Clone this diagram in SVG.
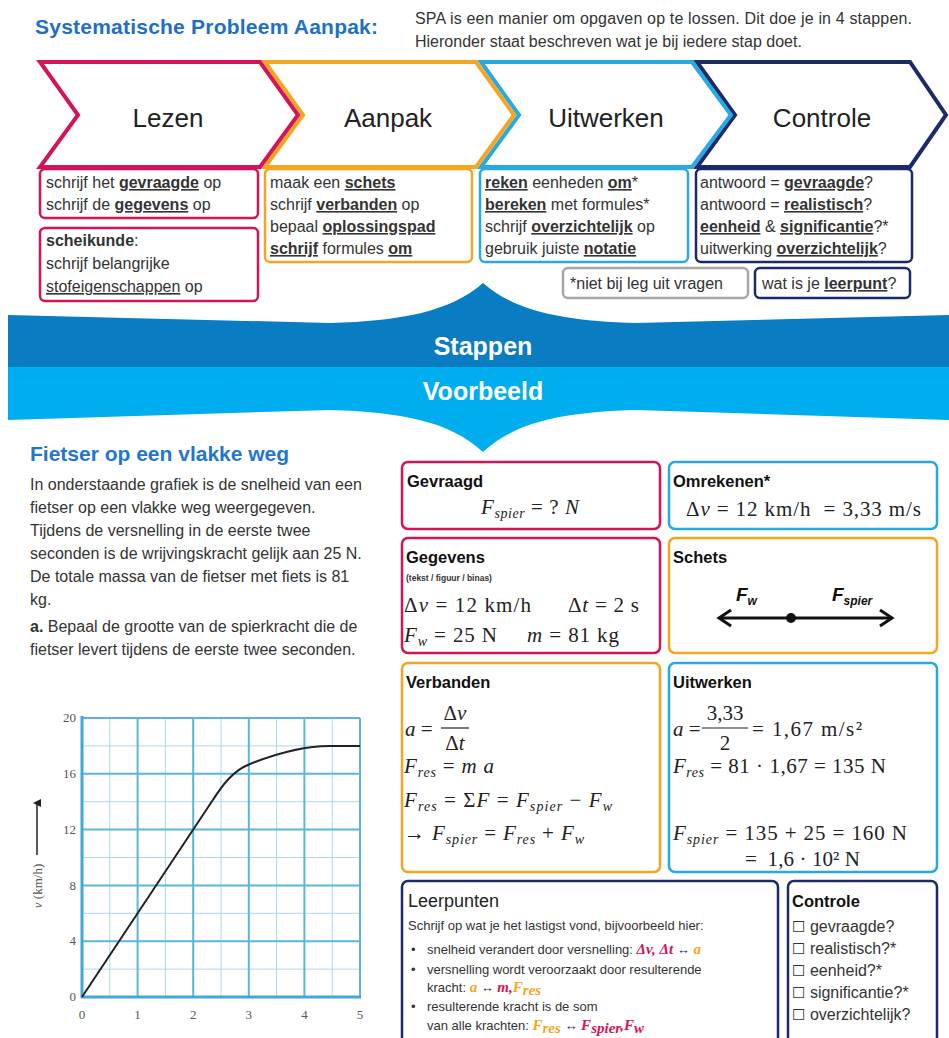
<svg xmlns="http://www.w3.org/2000/svg" width="949" height="1038" viewBox="0 0 949 1038">
<defs>
<style>
.t{font-family:"Liberation Sans",Arial,sans-serif;font-size:16px;fill:#333}
.b{font-weight:bold}
.u{text-decoration:underline}
.m{font-family:"Liberation Serif","DejaVu Serif",serif;font-size:21px;fill:#222}
.i{font-style:italic}
.s{font-style:italic;font-size:14px}
.chev{fill:#fff;stroke-width:4;stroke-linejoin:miter}
.lbl{font-family:"Liberation Sans",Arial,sans-serif;font-size:26px;fill:#222;text-anchor:middle}
.box{fill:#fff;stroke-width:2.5}
.pink{stroke:#d4145a}
.orange{stroke:#f7a520}
.blue{stroke:#27aae1}
.navy{stroke:#1b2a6b}
.gray{stroke:#a6a6a6}
.h{font-family:"Liberation Sans",Arial,sans-serif;font-weight:bold;font-size:16.5px;fill:#111}
.gmaj{stroke:#5ab6dd;stroke-width:2}
.gmin{stroke:#a9d9ed;stroke-width:1}
.tick{font-family:"Liberation Serif",serif;font-size:13px;fill:#555}
.lp{font-family:"Liberation Sans",Arial,sans-serif;font-size:13px;fill:#333}
.lm{font-family:"Liberation Serif",serif;font-weight:bold;font-style:italic;font-size:15px}
.cpk{fill:#d4145a}.cor{fill:#f7a520}.cnv{fill:#1b2a6b}
</style>
<marker id="upArrow" markerWidth="8" markerHeight="8" refX="4" refY="4" orient="auto" markerUnits="userSpaceOnUse"><path d="M0,8 L4,0 L8,8 Z" fill="#222"/></marker>
</defs>
<rect width="949" height="1038" fill="#fff"/>

<g id="header">
<text x="35" y="34" font-family="Liberation Sans,Arial,sans-serif" font-weight="bold" font-size="21" fill="#1f6fc5" textLength="343">Systematische Probleem Aanpak:</text>
<text class="t" x="415" y="24" font-size="15.5" textLength="497">SPA is een manier om opgaven op te lossen. Dit doe je in 4 stappen.</text>
<text class="t" x="415" y="47" font-size="15.5">Hieronder staat beschreven wat je bij iedere stap doet.</text>
</g>

<g id="step-controle">
<path class="chev navy" d="M697,62 L910,62 L946,115 L910,167 L697,167 L735,115 Z"/>
<text class="lbl" x="822" y="127">Controle</text>
</g>
<g id="step-uitwerken">
<path class="chev blue" d="M481,62 L692,62 L731,115 L692,167 L481,167 L519,115 Z"/>
<text class="lbl" x="606" y="127">Uitwerken</text>
</g>
<g id="step-aanpak">
<path class="chev orange" d="M265,62 L476,62 L514,115 L476,167 L265,167 L303,115 Z"/>
<text class="lbl" x="388" y="127">Aanpak</text>
</g>
<g id="step-lezen">
<path class="chev pink" d="M40,62 L260,62 L298,115 L260,167 L40,167 L78,115 Z"/>
<text class="lbl" x="168" y="127">Lezen</text>
</g>

<g id="box-lezen-1">
<rect class="box pink" x="40" y="169" width="218" height="49" rx="5"/>
<text class="t" x="46" y="188">schrijf het <tspan class="b u">gevraagde</tspan> op</text>
<text class="t" x="46" y="210">schrijf de <tspan class="b u">gegevens</tspan> op</text>
</g>
<g id="box-lezen-2">
<rect class="box pink" x="40" y="228" width="218" height="73" rx="5"/>
<text class="t" x="46" y="246"><tspan class="b">scheikunde</tspan>:</text>
<text class="t" x="46" y="269">schrijf belangrijke</text>
<text class="t" x="46" y="292"><tspan class="u">stofeigenschappen</tspan> op</text>
</g>
<g id="box-aanpak">
<rect class="box orange" x="265" y="169" width="207" height="93" rx="5"/>
<text class="t" x="270" y="188">maak een <tspan class="b u">schets</tspan></text>
<text class="t" x="270" y="210">schrijf <tspan class="b u">verbanden</tspan> op</text>
<text class="t" x="270" y="232">bepaal <tspan class="b u">oplossingspad</tspan></text>
<text class="t" x="270" y="254"><tspan class="b u">schrijf</tspan> formules <tspan class="b u">om</tspan></text>
</g>
<g id="box-uitwerken">
<rect class="box blue" x="480" y="169" width="208" height="93" rx="5"/>
<text class="t" x="485" y="188"><tspan class="b u">reken</tspan> eenheden <tspan class="b u">om</tspan>*</text>
<text class="t" x="485" y="210"><tspan class="b u">bereken</tspan> met formules*</text>
<text class="t" x="485" y="232">schrijf <tspan class="b u">overzichtelijk</tspan> op</text>
<text class="t" x="485" y="254">gebruik juiste <tspan class="b u">notatie</tspan></text>
</g>
<g id="box-controle">
<rect class="box navy" x="696" y="169" width="216" height="93" rx="5"/>
<text class="t" x="700" y="188">antwoord = <tspan class="b u">gevraagde</tspan>?</text>
<text class="t" x="700" y="210">antwoord = <tspan class="b u">realistisch</tspan>?</text>
<text class="t" x="700" y="232"><tspan class="b u">eenheid</tspan> &amp; <tspan class="b u">significantie</tspan>?*</text>
<text class="t" x="700" y="254">uitwerking <tspan class="b u">overzichtelijk</tspan>?</text>
</g>
<g id="box-note">
<rect class="box gray" x="563" y="268" width="185" height="30" rx="5"/>
<text class="t" x="570" y="289" font-size="15.5">*niet bij leg uit vragen</text>
</g>
<g id="box-leerpunt">
<rect class="box navy" x="755" y="268" width="155" height="30" rx="5"/>
<text class="t" x="762" y="289" font-size="15.5">wat is je <tspan class="b u">leerpunt</tspan>?</text>
</g>

<g id="banner">
<path d="M8,315 L330,323 C400,321 450,312 483,283 C516,312 566,321 636,323 L949,315 L949,368 L8,368 Z" fill="#0a7cc1"/>
<path d="M8,367 L949,367 L949,420 L636,410 C566,412 516,421 483,452 C450,421 400,412 330,410 L8,420 Z" fill="#00aeef"/>
<text x="483" y="355" text-anchor="middle" font-family="Liberation Sans,Arial,sans-serif" font-weight="bold" font-size="25" fill="#fff">Stappen</text>
<text x="483" y="400" text-anchor="middle" font-family="Liberation Sans,Arial,sans-serif" font-weight="bold" font-size="25" fill="#fff">Voorbeeld</text>
</g>

<g id="exercise">
<text x="30" y="461" font-family="Liberation Sans,Arial,sans-serif" font-weight="bold" font-size="21" fill="#1f77d0">Fietser op een vlakke weg</text>
<text class="t" x="30" y="490">In onderstaande grafiek is de snelheid van een</text>
<text class="t" x="30" y="513">fietser op een vlakke weg weergegeven.</text>
<text class="t" x="30" y="536">Tijdens de versnelling in de eerste twee</text>
<text class="t" x="30" y="559">seconden is de wrijvingskracht gelijk aan 25 N.</text>
<text class="t" x="30" y="582">De totale massa van de fietser met fiets is 81</text>
<text class="t" x="30" y="605">kg.</text>
<text class="t" x="30" y="632"><tspan class="b">a.</tspan> Bepaal de grootte van de spierkracht die de</text>
<text class="t" x="30" y="655">fietser levert tijdens de eerste twee seconden.</text>
</g>

<g id="graph">
<g class="gmin">
<line x1="109.8" y1="718" x2="109.8" y2="997"/><line x1="165.4" y1="718" x2="165.4" y2="997"/><line x1="221" y1="718" x2="221" y2="997"/><line x1="276.6" y1="718" x2="276.6" y2="997"/><line x1="332.2" y1="718" x2="332.2" y2="997"/>
<line x1="82" y1="969.1" x2="360" y2="969.1"/><line x1="82" y1="913.3" x2="360" y2="913.3"/><line x1="82" y1="857.5" x2="360" y2="857.5"/><line x1="82" y1="801.7" x2="360" y2="801.7"/><line x1="82" y1="745.9" x2="360" y2="745.9"/>
</g>
<g class="gmaj">
<line x1="137.6" y1="718" x2="137.6" y2="997"/><line x1="193.2" y1="718" x2="193.2" y2="997"/><line x1="248.8" y1="718" x2="248.8" y2="997"/><line x1="304.4" y1="718" x2="304.4" y2="997"/><line x1="360" y1="718" x2="360" y2="997"/>
<line x1="82" y1="941.2" x2="360" y2="941.2"/><line x1="82" y1="885.4" x2="360" y2="885.4"/><line x1="82" y1="829.6" x2="360" y2="829.6"/><line x1="82" y1="773.8" x2="360" y2="773.8"/><line x1="82" y1="718" x2="360" y2="718"/>
</g>
<line x1="82" y1="716" x2="82" y2="998" stroke="#3fa9d8" stroke-width="3"/>
<line x1="81" y1="997" x2="361" y2="997" stroke="#3fa9d8" stroke-width="3"/>
<path d="M82,997 L212,801.3 C222,786 232,771 250,764 C270,756 300,746 330,746 L360,746" fill="none" stroke="#222" stroke-width="2"/>
<g class="tick" text-anchor="end">
<text x="76" y="722">20</text><text x="76" y="778">16</text><text x="76" y="834">12</text><text x="76" y="890">8</text><text x="76" y="945">4</text><text x="76" y="1001">0</text>
</g>
<g class="tick" text-anchor="middle">
<text x="82" y="1019">0</text><text x="137.6" y="1019">1</text><text x="193.2" y="1019">2</text><text x="248.8" y="1019">3</text><text x="304.4" y="1019">4</text><text x="360" y="1019">5</text>
</g>
<text class="tick" transform="translate(42,886) rotate(-90)" text-anchor="middle"><tspan font-style="italic">v</tspan> (km/h)</text>
<line x1="37" y1="855" x2="37" y2="803" stroke="#222" stroke-width="1.5" marker-end="url(#upArrow)"/>
</g>

<g id="box-gevraagd">
<rect class="box pink" x="402" y="462" width="258" height="67" rx="6"/>
<text class="h" x="407" y="487">Gevraagd</text>
<text class="m" x="481" y="514" textLength="98"><tspan class="i">F</tspan><tspan class="s" dy="4">spier</tspan><tspan dy="-4"> = ? </tspan><tspan class="i">N</tspan></text>
</g>
<g id="box-omrekenen">
<rect class="box blue" x="669" y="462" width="268" height="67" rx="6"/>
<text class="h" x="673" y="487">Omrekenen*</text>
<text class="m" x="686" y="516" textLength="235" xml:space="preserve">Δ<tspan class="i">v</tspan> = 12 km/h  = 3,33 m/s</text>
</g>
<g id="box-gegevens">
<rect class="box pink" x="402" y="538" width="258" height="115" rx="6"/>
<text class="h" x="406" y="563">Gegevens</text>
<text x="406" y="581" font-family="Liberation Sans,Arial,sans-serif" font-weight="bold" font-size="8.5" fill="#333">(tekst / figuur / binas)</text>
<text class="m" x="404" y="612" textLength="127">Δ<tspan class="i">v</tspan> = 12 km/h</text>
<text class="m" x="568" y="612" textLength="71">Δ<tspan class="i">t</tspan> = 2 s</text>
<text class="m" x="404" y="642" textLength="93"><tspan class="i">F</tspan><tspan class="s" dy="4">w</tspan><tspan dy="-4"> = 25 N</tspan></text>
<text class="m" x="527" y="642" textLength="92"><tspan class="i">m</tspan> = 81 kg</text>
</g>
<g id="box-schets">
<rect class="box orange" x="669" y="538" width="268" height="115" rx="6"/>
<text class="h" x="673" y="563">Schets</text>
<line x1="720" y1="618" x2="891" y2="618" stroke="#111" stroke-width="3"/>
<polyline points="731,610 719,618 731,626" fill="none" stroke="#111" stroke-width="3"/>
<polyline points="880,610 892,618 880,626" fill="none" stroke="#111" stroke-width="3"/>
<circle cx="791" cy="618" r="5" fill="#111"/>
<text x="736" y="601" font-family="Liberation Sans,Arial,sans-serif" font-weight="bold" font-style="italic" font-size="19" fill="#111">F<tspan font-size="12" dy="4">w</tspan></text>
<text x="832" y="601" font-family="Liberation Sans,Arial,sans-serif" font-weight="bold" font-style="italic" font-size="19" fill="#111">F<tspan font-size="12" dy="4">spier</tspan></text>
</g>
<g id="box-verbanden">
<rect class="box orange" x="402" y="663" width="258" height="209" rx="6"/>
<text class="h" x="406" y="688">Verbanden</text>
<text class="m" x="405" y="736"><tspan class="i">a</tspan> =</text>
<text class="m" x="455" y="720" text-anchor="middle">Δ<tspan class="i">v</tspan></text>
<line x1="441" y1="728" x2="469" y2="728" stroke="#222" stroke-width="1.2"/>
<text class="m" x="455" y="750" text-anchor="middle">Δ<tspan class="i">t</tspan></text>
<text class="m" x="404" y="773" textLength="90"><tspan class="i">F</tspan><tspan class="s" dy="4">res</tspan><tspan dy="-4"> = </tspan><tspan class="i">m a</tspan></text>
<text class="m" x="404" y="807" textLength="208"><tspan class="i">F</tspan><tspan class="s" dy="4">res</tspan><tspan dy="-4"> = Σ</tspan><tspan class="i">F</tspan> = <tspan class="i">F</tspan><tspan class="s" dy="4">spier</tspan><tspan dy="-4"> − </tspan><tspan class="i">F</tspan><tspan class="s" dy="4">w</tspan></text>
<text class="m" x="404" y="840" textLength="180">→ <tspan class="i">F</tspan><tspan class="s" dy="4">spier</tspan><tspan dy="-4"> = </tspan><tspan class="i">F</tspan><tspan class="s" dy="4">res</tspan><tspan dy="-4"> + </tspan><tspan class="i">F</tspan><tspan class="s" dy="4">w</tspan></text>
</g>
<g id="box-uitwerken-vb">
<rect class="box blue" x="669" y="663" width="268" height="209" rx="6"/>
<text class="h" x="673" y="688">Uitwerken</text>
<text class="m" x="673" y="736"><tspan class="i">a</tspan> =</text>
<text class="m" x="725" y="720" text-anchor="middle">3,33</text>
<line x1="702" y1="728" x2="748" y2="728" stroke="#222" stroke-width="1.2"/>
<text class="m" x="725" y="750" text-anchor="middle">2</text>
<text class="m" x="752" y="736" textLength="110">= 1,67 m/s²</text>
<text class="m" x="673" y="773" textLength="213"><tspan class="i">F</tspan><tspan class="s" dy="4">res</tspan><tspan dy="-4"> = 81 · 1,67 = 135 N</tspan></text>
<text class="m" x="673" y="840" textLength="234"><tspan class="i">F</tspan><tspan class="s" dy="4">spier</tspan><tspan dy="-4"> = 135 + 25 = 160 N</tspan></text>
<text class="m" x="745" y="866" textLength="115" xml:space="preserve">=  1,6 · 10² N</text>
</g>
<g id="box-leerpunten">
<rect class="box navy" x="402" y="881" width="376" height="170" rx="6"/>
<text x="408" y="907" font-family="Liberation Sans,Arial,sans-serif" font-size="18" fill="#222">Leerpunten</text>
<text class="lp" x="408" y="930">Schrijf op wat je het lastigst vond, bijvoorbeeld hier:</text>
<text class="lp" x="411" y="954">•</text>
<text class="lp" x="427" y="954">snelheid verandert door versnelling: <tspan class="lm cpk">Δv, Δt</tspan><tspan class="cnv"> ↔ </tspan><tspan class="lm cor">a</tspan></text>
<text class="lp" x="411" y="974">•</text>
<text class="lp" x="427" y="974">versnelling wordt veroorzaakt door resulterende</text>
<text class="lp" x="427" y="992">kracht: <tspan class="lm cor">a</tspan><tspan class="cnv"> ↔ </tspan><tspan class="lm cpk">m,</tspan><tspan class="lm cor">F</tspan><tspan class="lm cor" font-size="10" dy="3">res</tspan></text>
<text class="lp" x="411" y="1011">•</text>
<text class="lp" x="427" y="1011">resulterende kracht is de som</text>
<text class="lp" x="427" y="1030">van alle krachten: <tspan class="lm cor">F</tspan><tspan class="lm cor" font-size="10" dy="3">res</tspan><tspan class="cnv" dy="-3"> ↔ </tspan><tspan class="lm cpk">F</tspan><tspan class="lm cpk" font-size="10" dy="3">spier</tspan><tspan class="lm cpk" dy="-3">,F</tspan><tspan class="lm cpk" font-size="10" dy="3">w</tspan></text>
</g>
<g id="box-controle-vb">
<rect class="box navy" x="788" y="881" width="149" height="170" rx="6"/>
<text class="h" x="792" y="907" font-size="17">Controle</text>
<g class="t" font-size="14.5">
<text x="792" y="932"><tspan font-family="DejaVu Sans" font-size="15">☐</tspan> gevraagde?</text>
<text x="792" y="954"><tspan font-family="DejaVu Sans" font-size="15">☐</tspan> realistisch?*</text>
<text x="792" y="976"><tspan font-family="DejaVu Sans" font-size="15">☐</tspan> eenheid?*</text>
<text x="792" y="998"><tspan font-family="DejaVu Sans" font-size="15">☐</tspan> significantie?*</text>
<text x="792" y="1020"><tspan font-family="DejaVu Sans" font-size="15">☐</tspan> overzichtelijk?</text>
</g>
</g>
</svg>
